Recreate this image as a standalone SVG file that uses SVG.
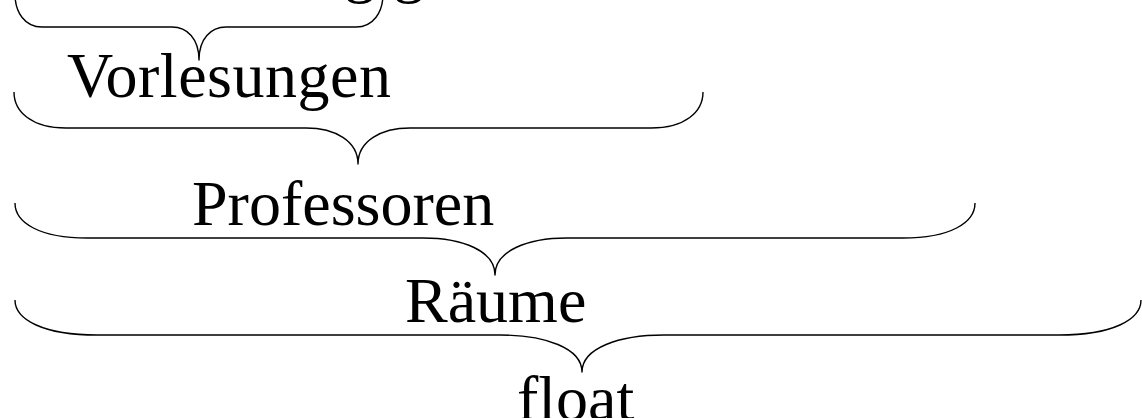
<svg xmlns="http://www.w3.org/2000/svg" width="1142" height="418" viewBox="0 0 1142 418">
<style>
  .brace { fill: none; stroke: #000; stroke-width: 1.4; stroke-linejoin: round; }
  .lbl { font-family: "Liberation Serif", "Times New Roman", serif; font-size: 64px; fill: #000; }
</style>
<rect width="1142" height="418" fill="#fff"/>
<g id="top-expression">
  <text class="lbl" y="-10"><tspan x="344">g</tspan><tspan x="393">g</tspan></text>
</g>
<g id="braces">
  <path id="brace1" class="brace" d="M15,-6 C15,12 24.5,27 42,27 L172,27 C187,27 199,38.5 199,60 C199,38.5 211,27 226,27 L356,27 C373.5,27 383,12 383,-6"/>
  <path id="brace2" class="brace" d="M14,92 C14,112 32,128 66,128 L306,128 C335,128 358,141 358,164 C358,141 381,128 410,128 L651,128 C685,128 703,112 703,92"/>
  <path id="brace3" class="brace" d="M15,203 C15,223 40,238 87,238 L423,238 C463,238 495,251 495,275 C495,251 527,238 567,238 L903,238 C950,238 975,223 975,203"/>
  <path id="brace4" class="brace" d="M15,300 C15,320 44,335 97,335 L500,335 C545,335 582,348 582,372 C582,348 619,335 664,335 L1059,335 C1112,335 1141,320 1141,300"/>
</g>
<g id="node-vorlesungen"><text class="lbl" x="67" y="97" textLength="324" lengthAdjust="spacing">Vorlesungen</text></g>
<g id="node-professoren"><text class="lbl" x="192" y="225">Professoren</text></g>
<g id="node-raeume"><text class="lbl" x="405" y="322">Räume</text></g>
<g id="node-float"><text class="lbl" x="517" y="420">float</text></g>
</svg>
